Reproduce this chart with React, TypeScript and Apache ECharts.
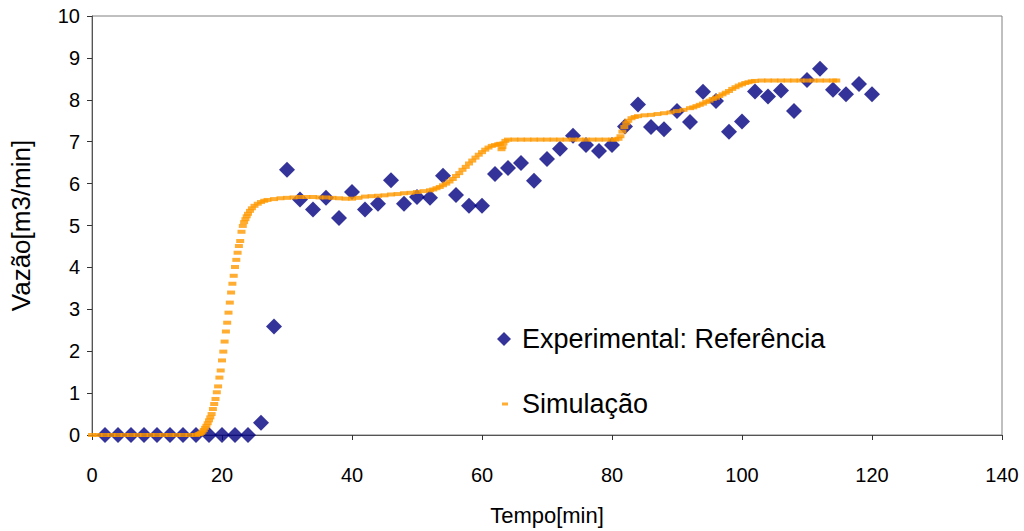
import React, { useEffect, useRef } from "react";
import * as echarts from "echarts";

const xTicks = [0, 20, 40, 60, 80, 100, 120, 140];
const yTicks = [0, 1, 2, 3, 4, 5, 6, 7, 8, 9, 10];

const expTime = [
  2, 4, 6, 8, 10, 12, 14, 16, 18, 20, 22, 24, 26, 28, 30, 32, 34, 36, 38, 40,
  42, 44, 46, 48, 50, 52, 54, 56, 58, 60, 62, 64, 66, 68, 70, 72, 74, 76, 78, 80,
  82, 84, 86, 88, 90, 92, 94, 96, 98, 100, 102, 104, 106, 108, 110, 112, 114, 116, 118, 120,
];
const expValues = [
  0, 0, 0, 0, 0, 0, 0, 0, 0, 0, 0, 0, 0.29, 2.59, 6.33, 5.62, 5.38, 5.66, 5.18, 5.8,
  5.38, 5.52, 6.08, 5.52, 5.68, 5.66, 6.19, 5.73, 5.47, 5.47, 6.23, 6.37, 6.49, 6.07, 6.59, 6.83, 7.14, 6.92, 6.78, 6.92,
  7.36, 7.89, 7.35, 7.3, 7.73, 7.47, 8.19, 7.97, 7.24, 7.48, 8.2, 8.08, 8.22, 7.73, 8.47, 8.74, 8.24, 8.13, 8.38, 8.13,
];

const simTime = [
  0, 1, 2, 3, 4, 5, 6, 7, 8, 9, 10, 11, 12, 13, 14, 15, 16,
  16.4, 16.6, 16.8, 17.0, 17.2, 17.4, 17.6, 17.8, 18.0, 18.2,
  18.4, 18.6, 18.8, 19.0, 19.2, 19.4, 19.6, 19.8, 20.0, 20.2, 20.4, 20.6, 20.8,
  21.0, 21.2, 21.4, 21.6, 21.8, 22.0, 22.2, 22.4, 22.6, 22.8, 23.0, 23.2, 23.4,
  23.6, 23.8, 24.0, 24.3, 24.6, 25.0, 25.5, 26, 26.5, 27, 28, 29, 30, 31, 32, 33, 34, 35,
  36, 37, 38, 39, 40, 41, 42, 43, 44, 45, 46, 47, 48, 49, 50, 51, 52, 52.5, 53, 53.5,
  54, 54.5, 55, 55.5, 56, 56.5, 57, 57.5, 58, 58.5, 59, 59.5, 60, 60.5, 61, 61.5, 62, 62.5,
  62.8, 63.0, 63.15, 63.3, 63.6, 64,
  65, 66, 67, 68, 69, 70, 71, 72, 73, 74, 75, 76, 77, 78, 79, 80,
  80.5, 81, 81.3, 81.6, 81.9, 82.2, 82.5, 83, 83.5, 84, 85, 86, 87, 88, 89, 90, 91, 92,
  92.5, 93, 93.5, 94, 94.5, 95, 95.5, 96, 96.5, 97, 97.5, 98, 98.5, 99, 99.5, 100,
  100.5, 101, 101.5, 102, 103, 104, 105, 106, 107, 108, 109, 110, 111, 112, 113, 114, 114.5,
];
const simValues = [
  0, 0, 0, 0, 0, 0, 0, 0, 0, 0, 0, 0, 0, 0, 0, 0, 0,
  0.02, 0.03, 0.05, 0.08, 0.12, 0.17, 0.22, 0.28, 0.35, 0.42,
  0.5, 0.62, 0.74, 0.86, 1.02, 1.16, 1.37, 1.54, 1.78, 1.99, 2.23, 2.47, 2.68,
  2.92, 3.16, 3.4, 3.61, 3.8, 4.01, 4.18, 4.35, 4.51, 4.63, 4.85, 4.99, 5.08,
  5.15, 5.22, 5.28, 5.35, 5.41, 5.47, 5.52, 5.56, 5.59, 5.61, 5.63, 5.65, 5.66, 5.67, 5.68, 5.68, 5.68, 5.67,
  5.67, 5.66, 5.65, 5.64, 5.64, 5.66, 5.69, 5.7, 5.71, 5.72, 5.74, 5.75, 5.77, 5.78, 5.8, 5.82, 5.84, 5.86, 5.89, 5.92,
  5.96, 6.0, 6.05, 6.11, 6.18, 6.25, 6.33, 6.4, 6.48, 6.55, 6.62, 6.69, 6.75, 6.81, 6.86, 6.9, 6.92, 6.94,
  6.95, 6.82, 6.87, 6.96, 7.02, 7.05,
  7.05, 7.05, 7.05, 7.05, 7.05, 7.05, 7.05, 7.05, 7.05, 7.05, 7.05, 7.05, 7.05, 7.05, 7.05, 7.05,
  7.05, 7.07, 7.13, 7.24, 7.35, 7.44, 7.5, 7.56, 7.59, 7.61, 7.63, 7.64, 7.66, 7.68, 7.7, 7.73, 7.76, 7.8,
  7.82, 7.85, 7.88, 7.91, 7.95, 7.98, 8.02, 8.05, 8.09, 8.13, 8.17, 8.21, 8.26, 8.3, 8.34, 8.37,
  8.4, 8.42, 8.44, 8.45, 8.46, 8.46, 8.46, 8.46, 8.46, 8.46, 8.46, 8.46, 8.46, 8.46, 8.46, 8.46, 8.46,
];

const expName = "Experimental: Referência";
const simName = "Simulação";
const xTitle = "Tempo[min]";
const yTitle = "Vazão[m3/min]";

const FONT = "'Liberation Sans', Arial, sans-serif";

export default function App() {
  const ref = useRef<HTMLDivElement>(null);

  useEffect(() => {
    document.body.style.margin = "0";
    if (!ref.current) return;
    const chart = echarts.init(ref.current, undefined, { renderer: "svg" });
    const expData = expTime.map((t, i) => [t, expValues[i]]);
    const simData = simTime.map((t, i) => [t, simValues[i]]);
    chart.setOption({
      animation: false,
      backgroundColor: "#ffffff",
      textStyle: { fontFamily: FONT },
      grid: {
        left: 87,
        right: 22,
        top: 16,
        bottom: 94,
        show: true,
        borderColor: "#808080",
        borderWidth: 1,
        backgroundColor: "transparent",
      },
      legend: [
        {
          data: [{ name: expName, icon: "diamond" }],
          left: 492,
          top: 319,
          itemWidth: 14,
          itemHeight: 14,
          itemGap: 0,
          textStyle: {
            fontSize: 27,
            color: "#000",
            fontFamily: FONT,
            lineHeight: 30,
            padding: [0, 0, 0, 6],
          },
          selectedMode: false,
        },
        {
          data: [{ name: simName, icon: "rect" }],
          left: 497,
          top: 384,
          itemWidth: 6,
          itemHeight: 3,
          itemGap: 0,
          textStyle: {
            fontSize: 27,
            color: "#000",
            fontFamily: FONT,
            lineHeight: 30,
            padding: [0, 0, 0, 9],
          },
          selectedMode: false,
        },
      ],
      xAxis: {
        type: "value",
        min: xTicks[0],
        max: xTicks[xTicks.length - 1],
        interval: 20,
        name: xTitle,
        nameLocation: "middle",
        nameGap: 69,
        nameTextStyle: { fontSize: 22, color: "#000", fontFamily: FONT },
        axisLine: { show: true, lineStyle: { color: "#555", width: 1 } },
        axisTick: { show: true, inside: false, length: 5, lineStyle: { color: "#333" } },
        axisLabel: { fontSize: 20, color: "#000", margin: 30, fontFamily: FONT },
        splitLine: { show: false },
      },
      yAxis: {
        type: "value",
        min: yTicks[0],
        max: yTicks[yTicks.length - 1],
        interval: 1,
        name: yTitle,
        nameLocation: "middle",
        nameRotate: 90,
        nameGap: 58,
        nameTextStyle: { fontSize: 26, color: "#000", fontFamily: FONT },
        axisLine: { show: true, lineStyle: { color: "#555", width: 1 } },
        axisTick: { show: true, inside: false, length: 5, lineStyle: { color: "#333" } },
        axisLabel: { fontSize: 20, color: "#000", margin: 12, fontFamily: FONT },
        splitLine: { show: false },
      },
      series: [
        {
          name: expName,
          type: "scatter",
          symbol: "diamond",
          symbolSize: 16,
          itemStyle: { color: "#000080" },
          data: expData,
          z: 2,
        },
        {
          name: simName,
          type: "scatter",
          symbol: "rect",
          symbolSize: [8, 4],
          itemStyle: { color: "#FF9900" },
          data: simData,
          z: 3,
        },
      ],
    });
    return () => chart.dispose();
  }, []);

  return <div ref={ref} style={{ width: 1024, height: 531 }} />;
}
